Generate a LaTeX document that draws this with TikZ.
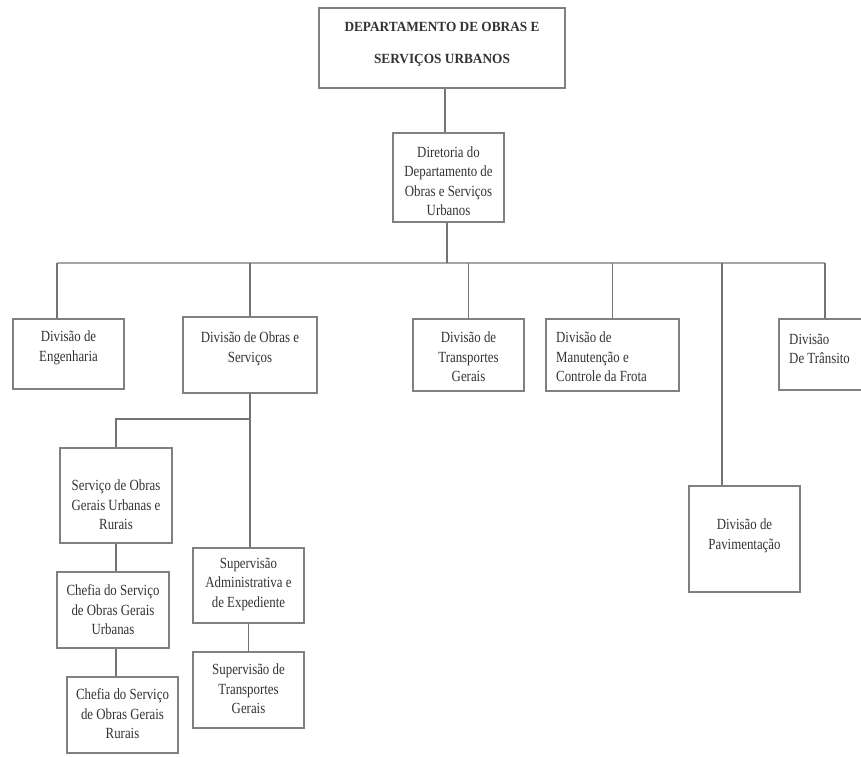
\documentclass[tikz,border=0pt]{standalone}
\usepackage{fontspec}
\setmainfont{Liberation Serif}[FakeStretch=0.83]
\newfontfamily\titlefont{Liberation Serif}[FakeStretch=0.95]
\begin{document}
\begin{tikzpicture}[x=1pt,y=-1pt,
  box/.style={draw=black!50, line width=1.6pt, fill=white, inner sep=0pt},
  link/.style={draw=black!55, line width=1.4pt},
  bus/.style={draw=black!35, line width=2.6pt},
  lbl/.style={text=black!80, font=\fontsize{15.5}{19.5}\selectfont, align=center, inner sep=0pt},
  lbll/.style={lbl, align=left, anchor=west},
]
\useasboundingbox (0,0) rectangle (861,756);

% ---- boxes ----
\node[box, minimum width=246, minimum height=80] (dep) at (442,48) {};
\node[box, minimum width=111, minimum height=89] (dir) at (448.5,177.5) {};
\node[box, minimum width=111, minimum height=70] (eng) at (68.5,354) {};
\node[box, minimum width=134, minimum height=76] (obr) at (250,355) {};
\node[box, minimum width=111, minimum height=72] (tra) at (468.5,355) {};
\node[box, minimum width=133, minimum height=72] (man) at (612.5,355) {};
\node[box, minimum width=96, minimum height=71] (tran) at (827,354.5) {};
\node[box, minimum width=111, minimum height=106] (pav) at (744.5,539) {};
\node[box, minimum width=112, minimum height=95] (serv) at (116,495.5) {};
\node[box, minimum width=112, minimum height=76] (chu) at (113,610) {};
\node[box, minimum width=111, minimum height=76] (chr) at (122.5,715) {};
\node[box, minimum width=111, minimum height=75] (sadm) at (248.5,585.5) {};
\node[box, minimum width=111, minimum height=76] (str) at (248.5,690) {};

% ---- labels ----
\node[lbl, font=\titlefont\bfseries\fontsize{14}{32}\selectfont] (dep-t) at (442,44)
  {DEPARTAMENTO DE OBRAS E\\SERVIÇOS URBANOS};
\node[lbl] (dir-t) at (448.5,181) {Diretoria do\\Departamento de\\Obras e Serviços\\Urbanos};
\node[lbl] (eng-t) at (68.5,348) {Divisão de\\Engenharia};
\node[lbl] (obr-t) at (250,349) {Divisão de Obras e\\Serviços};
\node[lbl] (tra-t) at (468.5,357) {Divisão de\\Transportes\\Gerais};
\node[lbll] (man-t) at (556,357) {Divisão de\\Manutenção e\\Controle da Frota};
\node[lbll] (tran-t) at (789,349) {Divisão\\De Trânsito};
\node[lbl] (pav-t) at (744.5,536) {Divisão de\\Pavimentação};
\node[lbl] (serv-t) at (116,505) {Serviço de Obras\\Gerais Urbanas e\\Rurais};
\node[lbl] (chu-t) at (113,610) {Chefia do Serviço\\de Obras Gerais\\Urbanas};
\node[lbl] (chr-t) at (122.5,714) {Chefia do Serviço\\de Obras Gerais\\Rurais};
\node[lbl] (sadm-t) at (248.5,584) {Supervisão\\Administrativa e\\de Expediente};
\node[lbl] (str-t) at (248.5,689) {Supervisão de\\Transportes\\Gerais};

% ---- main bus ----
\coordinate (busL) at (57,263);
\coordinate (busR) at (825,263);
\coordinate (busPav) at (722,263);
\coordinate (branch) at (116,419);
\draw[bus] (busL) -- (busR);

% ---- connectors ----
\draw[link] (dep.south -| 445,0) -- (dir.north -| 445,0);
\draw[link] (dir.south -| 447,0) -- (busR -| 447,0);
\draw[link] (busL) -- (busL |- eng.north);
\draw[link] (obr.north |- busL) -- (obr.north);
\draw[link] (tra.north |- busL) -- (tra.north);
\draw[link] (man.north |- busL) -- (man.north);
\draw[link] (busPav) -- (busPav |- pav.north);
\draw[link] (busR) -- (busR |- tran.north);
\draw[link] (obr.south) -- (obr.south |- sadm.north);
\draw[link] (obr.south |- branch) -- (branch) -- (branch |- serv.north);
\draw[link] (serv.south) -- (serv.south |- chu.north);
\draw[link] (serv.south |- chu.south) -- (serv.south |- chr.north);
\draw[link] (sadm.south) -- (str.north);
\end{tikzpicture}
\end{document}
